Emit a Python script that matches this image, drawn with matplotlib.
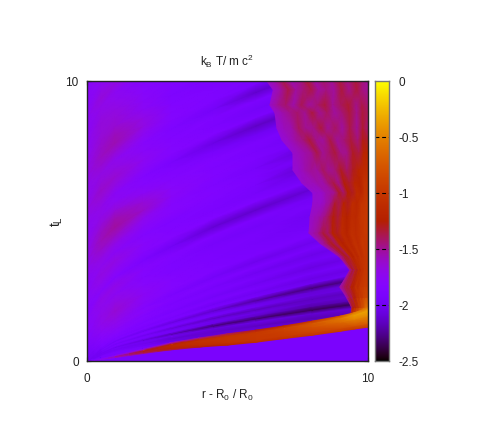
import numpy as np
import matplotlib
matplotlib.use("Agg")
import matplotlib.pyplot as plt
from matplotlib.colors import Normalize

plt.rcParams['font.family'] = ['Liberation Sans', 'DejaVu Sans']
plt.rcParams['mathtext.fontset'] = 'custom'
plt.rcParams['mathtext.rm'] = 'Liberation Sans'
plt.rcParams['mathtext.it'] = 'Liberation Sans'

# --- values (log10 kB T / m c^2) ---
unshocked_value = -1.92

# pre-shock field: streak rows following flow lines
field_r = [0, .5, 1, 2, 3, 4.5, 6, 8, 10]
field_shape = [0, .14, .24, .36, .46, .60, .72, .87, 1]
field_left = [0, 0, 0, 0, 0, 0, 0, 0, 0, 0, 0, 0, 0, 0, 0, 0,
              .05, .1, .15, .25, .4,
              .6, .9, 1.2, 1.5, 1.8, 2.1, 2.4, 2.7, 3.0, 3.3, 3.6, 3.9, 4.2, 4.5, 4.8, 5.1, 5.4, 5.7, 6.0,
              6.3, 6.6, 6.9, 7.2, 7.5, 7.8, 8.1, 8.4, 8.7, 9.0, 9.3, 9.6, 9.9, 10.2]
field_right = [.9, 1.3, 1.55, 1.75, 1.95, 2.1, 2.25, 2.4, 2.55, 2.7, 2.85, 3.0, 3.2, 3.4, 3.6, 3.85,
               4.1, 4.35, 4.6, 4.85, 5.1,
               5.6, 5.9, 6.2, 6.5, 6.8, 7.1, 7.4, 7.7, 8.0, 8.3, 8.6, 8.9, 9.2, 9.5, 9.8, 10.1, 10.4, 10.7, 11.0,
               11.3, 11.6, 11.9, 12.2, 12.5, 12.8, 13.1, 13.4, 13.7, 14.0, 14.3, 14.6, 14.9, 15.2]
field_values = [
 [-1.92, -1.92, -1.92, -1.92, -1.92, -1.92, -1.92, -1.92, -1.92],
 [-2.00, -1.92, -1.90, -1.92, -1.95, -2.00, -2.02, -2.05, -2.05],
 [-2.00, -1.96, -1.95, -1.98, -2.05, -2.10, -2.08, -2.08, -2.05],
 [-2.00, -1.98, -1.98, -2.02, -2.10, -2.12, -2.15, -2.18, -2.15],
 [-2.00, -1.96, -1.96, -2.00, -2.02, -2.08, -2.05, -2.10, -2.10],
 [-2.00, -1.98, -2.00, -2.08, -2.18, -2.30, -2.32, -2.36, -2.35],
 [-2.02, -1.95, -1.92, -1.95, -1.98, -2.05, -2.12, -2.20, -2.15],
 [-2.02, -1.95, -1.90, -1.92, -1.98, -2.02, -2.05, -2.12, -2.10],
 [-2.02, -1.96, -1.95, -2.00, -2.08, -2.14, -2.16, -2.15, -2.15],
 [-2.02, -1.94, -1.90, -1.90, -1.94, -1.96, -2.00, -2.08, -2.05],
 [-2.02, -1.92, -1.88, -1.90, -1.95, -2.00, -2.05, -2.10, -2.10],
 [-2.02, -1.95, -1.96, -2.00, -2.06, -2.12, -2.22, -2.30, -2.28],
 [-2.02, -1.92, -1.86, -1.88, -1.90, -1.92, -1.95, -2.00, -2.00],
 [-2.02, -1.92, -1.88, -1.90, -1.92, -1.98, -2.00, -2.05, -2.05],
 [-2.00, -1.88, -1.84, -1.86, -1.88, -1.90, -1.93, -1.97, -1.97],
 [-2.00, -1.88, -1.84, -1.88, -1.92, -1.96, -2.00, -2.06, -2.05],
 [-1.98, -1.86, -1.80, -1.84, -1.88, -1.90, -1.93, -1.97, -1.97],
 [-1.98, -1.84, -1.78, -1.84, -1.90, -1.94, -2.00, -2.04, -2.02],
 [-1.96, -1.82, -1.74, -1.80, -1.86, -1.88, -1.90, -1.94, -1.94],
 [-1.95, -1.80, -1.72, -1.82, -1.90, -1.96, -2.02, -2.02, -2.00],
 [-1.92, -1.76, -1.68, -1.78, -1.84, -1.88, -1.90, -1.92, -1.92],
 [-1.88, -1.72, -1.64, -1.76, -1.84, -1.90, -1.94, -1.98, -1.98],
 [-1.84, -1.70, -1.68, -1.80, -1.88, -1.90, -1.92, -2.00, -2.00],
 [-1.80, -1.72, -1.74, -1.84, -1.88, -1.94, -1.96, -1.94, -1.94],
 [-1.80, -1.70, -1.70, -1.82, -1.86, -1.88, -1.90, -1.98, -1.98],
 [-1.82, -1.78, -1.82, -1.90, -1.98, -2.10, -2.12, -2.10, -2.08],
 [-1.80, -1.72, -1.74, -1.82, -1.84, -1.86, -1.88, -1.94, -1.94],
 [-1.78, -1.68, -1.68, -1.80, -1.86, -1.90, -1.94, -2.02, -2.04],
 [-1.78, -1.72, -1.76, -1.84, -1.88, -1.88, -1.92, -2.12, -2.12],
 [-1.76, -1.68, -1.70, -1.78, -1.82, -1.86, -1.90, -1.98, -2.00],
 [-1.74, -1.62, -1.60, -1.72, -1.82, -1.88, -1.94, -2.10, -2.10],
 [-1.72, -1.58, -1.52, -1.62, -1.78, -1.86, -1.90, -1.96, -1.96],
 [-1.72, -1.60, -1.56, -1.66, -1.80, -1.88, -1.92, -2.00, -2.00],
 [-1.72, -1.66, -1.66, -1.76, -1.84, -1.86, -1.90, -1.94, -1.94],
 [-1.74, -1.70, -1.74, -1.82, -1.86, -1.94, -2.00, -2.00, -2.00],
 [-1.74, -1.70, -1.76, -1.84, -1.92, -2.05, -2.14, -2.14, -2.10],
 [-1.72, -1.66, -1.68, -1.78, -1.84, -1.86, -1.90, -1.92, -1.92],
 [-1.70, -1.62, -1.64, -1.74, -1.84, -1.90, -1.96, -2.00, -2.00],
 [-1.72, -1.66, -1.68, -1.78, -1.86, -1.88, -1.90, -1.92, -1.92],
 [-1.72, -1.68, -1.72, -1.80, -1.88, -1.96, -2.12, -2.10, -2.10],
 [-1.72, -1.64, -1.64, -1.74, -1.84, -1.88, -1.92, -1.92, -1.92],
 [-1.70, -1.60, -1.56, -1.68, -1.84, -1.88, -1.92, -1.92, -1.92],
 [-1.70, -1.62, -1.58, -1.70, -1.86, -1.90, -1.94, -1.94, -1.94],
 [-1.72, -1.64, -1.64, -1.76, -1.88, -1.92, -1.92, -1.92, -1.92],
 [-1.74, -1.66, -1.66, -1.78, -1.86, -1.88, -1.90, -1.90, -1.90],
 [-1.74, -1.66, -1.68, -1.80, -1.88, -1.90, -1.90, -1.90, -1.90],
 [-1.76, -1.68, -1.72, -1.82, -1.88, -1.90, -1.90, -1.90, -1.90],
 [-1.76, -1.70, -1.74, -1.84, -1.88, -1.90, -1.90, -1.90, -1.90],
 [-1.76, -1.66, -1.68, -1.80, -1.88, -1.90, -1.90, -1.90, -1.90],
 [-1.78, -1.70, -1.74, -1.84, -1.88, -1.90, -1.90, -1.90, -1.90],
 [-1.78, -1.74, -1.78, -1.86, -1.90, -1.90, -1.90, -1.90, -1.90],
 [-1.78, -1.72, -1.76, -1.84, -1.90, -1.90, -1.90, -1.90, -1.90],
 [-1.80, -1.76, -1.80, -1.86, -1.90, -1.90, -1.90, -1.90, -1.90],
 [-1.80, -1.78, -1.80, -1.86, -1.90, -1.90, -1.90, -1.90, -1.90],
]

# shock band
band_r = [0, .25, .5, 1, 2, 3, 4, 5, 6, 7, 8, 9, 9.5, 10]
band_low = [0, .02, .05, .12, .27, .40, .50, .57, .67, .80, .92, 1.06, 1.14, 1.21]
band_high = [0, .05, .10, .20, .42, .65, .82, .97, 1.10, 1.25, 1.42, 1.60, 1.72, 1.90]
band_fraction = [0, .2, .6, .85, 1]
band_values = [
 [-1.92, -1.90, -1.85, -1.75, -1.50, -1.38, -1.28, -1.18, -1.10, -1.06, -1.02, -.98, -.98, -.95],
 [-1.92, -1.88, -1.80, -1.62, -1.36, -1.22, -1.12, -1.05, -1.00, -.98, -.92, -.85, -.80, -.72],
 [-1.92, -1.85, -1.75, -1.55, -1.28, -1.14, -1.05, -1.00, -.98, -.92, -.80, -.65, -.50, -.45],
 [-1.92, -1.86, -1.78, -1.62, -1.38, -1.20, -1.10, -1.04, -1.00, -.90, -.76, -.55, -.38, -.35],
 [-1.96, -1.94, -1.90, -1.82, -1.70, -1.60, -1.50, -1.40, -1.28, -1.15, -1.02, -.80, -.55, -.58],
]

# post-front region, layers run from the front to the right edge
front_t = [10, 9.68, 9.14, 8.86, 8.32, 7.89, 7.43, 6.82, 6.36, 6.0, 5.64, 5.14, 4.57, 4.21, 3.71, 3.25, 2.64, 2.25, 1.89, 1.55]
front_r = [6.4, 6.63, 6.51, 6.69, 6.76, 6.94, 7.33, 7.33, 7.65, 8.04, 8.04, 7.94, 7.90, 8.29, 9.0, 9.36, 9.0, 9.25, 9.43, 9.36]
layer_fraction = [0, .08, .16, .24, .32, .40, .48, .56, .64, .72, .80, .88, .94, 1]
post_values = [
 [-1.62, -1.55, -1.38, -1.55, -1.50, -1.34, -1.52, -1.42, -1.50, -1.36, -1.46, -1.34, -1.44, -1.52],
 [-1.62, -1.52, -1.36, -1.52, -1.44, -1.36, -1.52, -1.46, -1.52, -1.34, -1.48, -1.34, -1.46, -1.50],
 [-1.62, -1.50, -1.42, -1.55, -1.38, -1.52, -1.44, -1.34, -1.50, -1.40, -1.32, -1.48, -1.36, -1.44],
 [-1.62, -1.55, -1.48, -1.42, -1.50, -1.34, -1.50, -1.40, -1.52, -1.44, -1.34, -1.48, -1.34, -1.40],
 [-1.64, -1.58, -1.55, -1.40, -1.50, -1.48, -1.34, -1.50, -1.40, -1.52, -1.36, -1.50, -1.32, -1.44],
 [-1.65, -1.60, -1.52, -1.46, -1.34, -1.48, -1.52, -1.36, -1.50, -1.44, -1.34, -1.45, -1.28, -1.32],
 [-1.62, -1.58, -1.54, -1.50, -1.36, -1.50, -1.42, -1.34, -1.48, -1.48, -1.30, -1.36, -1.20, -1.20],
 [-1.65, -1.62, -1.55, -1.50, -1.52, -1.40, -1.50, -1.45, -1.30, -1.42, -1.30, -1.18, -1.14, -1.12],
 [-1.62, -1.58, -1.58, -1.54, -1.55, -1.44, -1.36, -1.48, -1.26, -1.32, -1.18, -1.22, -1.06, -1.05],
 [-1.65, -1.62, -1.62, -1.55, -1.52, -1.48, -1.30, -1.42, -1.24, -1.30, -1.12, -1.18, -1.04, -1.05],
 [-1.62, -1.62, -1.62, -1.55, -1.48, -1.32, -1.38, -1.22, -1.30, -1.10, -1.18, -1.04, -1.02, -.98],
 [-1.62, -1.58, -1.54, -1.48, -1.38, -1.26, -1.34, -1.16, -1.24, -1.12, -1.14, -1.02, -1.00, -1.00],
 [-1.60, -1.55, -1.48, -1.34, -1.42, -1.22, -1.30, -1.12, -1.22, -1.08, -1.12, -1.05, -1.00, -1.00],
 [-1.58, -1.50, -1.38, -1.30, -1.40, -1.18, -1.25, -1.14, -1.18, -1.06, -1.12, -1.00, -1.02, -1.02],
 [-1.52, -1.45, -1.34, -1.28, -1.36, -1.14, -1.24, -1.10, -1.16, -1.05, -1.08, -1.02, -1.02, -1.02],
 [-1.52, -1.40, -1.30, -1.38, -1.16, -1.30, -1.10, -1.18, -1.05, -1.08, -1.00, -1.02, -1.00, -1.02],
 [-1.55, -1.50, -1.42, -1.34, -1.40, -1.20, -1.26, -1.05, -1.14, -1.00, -1.00, -.95, -.95, -1.00],
 [-1.55, -1.45, -1.34, -1.40, -1.20, -1.28, -1.06, -1.10, -.96, -1.00, -.90, -.88, -.86, -.88],
 [-1.38, -1.25, -1.14, -1.22, -1.04, -1.06, -.94, -.88, -.82, -.74, -.66, -.58, -.56, -.62],
 [-1.05, -.95, -.85, -.76, -.66, -.60, -.52, -.46, -.42, -.38, -.38, -.40, -.42, -.48],
]

tick_cbar = [0, -.5, -1, -1.5, -2, -2.5]
tick_cbar_labels = ['0', '-0.5', '-1', '-1.5', '-2', '-2.5']

W, H = 491, 442
fig = plt.figure(figsize=(W / 100, H / 100), dpi=100)
ax = fig.add_axes([87 / W, 1 - 361 / H, 281 / W, 280 / H])
norm = Normalize(-2.5, 0)
cmap = plt.get_cmap('gnuplot')
ax.set_facecolor(cmap(norm(unshocked_value)))

# pre-shock streak field
shape = np.array(field_shape)
left = np.array(field_left)[:, None]
right = np.array(field_right)[:, None]
fx = np.tile(np.array(field_r), (len(field_left), 1))
fy = left + (right - left) * shape
ax.pcolormesh(fx, fy, np.array(field_values), cmap=cmap, norm=norm, shading='gouraud')

# unshocked gas below the shock
ax.fill_between(band_r, -1, band_low, color=cmap(norm(unshocked_value)), lw=0)

# post-front region
ft = np.array(front_t)[:, None]
fr = np.array(front_r)[:, None]
lf = np.array(layer_fraction)[None, :]
px = fr + (10 - fr) * lf
py = np.tile(ft, (1, len(layer_fraction)))
ax.pcolormesh(px, py, np.array(post_values), cmap=cmap, norm=norm, shading='gouraud')

# shock band
low = np.array(band_low)
high = np.array(band_high)
bfrac = np.array(band_fraction)[:, None]
bx = np.tile(np.array(band_r), (len(band_fraction), 1))
by = low + (high - low) * bfrac
ax.pcolormesh(bx, by, np.array(band_values), cmap=cmap, norm=norm, shading='gouraud')

ax.set_xlim(0, 10)
ax.set_ylim(0, 10)
ax.set_xticks([0, 10])
ax.set_yticks([0, 10])
ax.tick_params(direction='in', length=3, width=.8, labelsize=8.5, pad=6, color='#111111', labelcolor='#222222')
ax.tick_params(axis='x', pad=9)
ax.tick_params(top=True, right=True)
for s in ax.spines.values():
    s.set_linewidth(1.0)
    s.set_color('#222222')
ax.set_title(r'k$_{\mathrm{B}}$ T/ m c$^{2}$', fontsize=8.5, pad=11, color='#222222')
ax.set_xlabel(r'r - R$_{0}$ / R$_{0}$', fontsize=8.5, labelpad=2, color='#222222')
ax.set_ylabel(r't$_{\mathrm{L}}$', fontsize=10, labelpad=0, color='#222222')

# colour box
cax = fig.add_axes([375 / W, 1 - 361 / H, 14 / W, 280 / H])
grad = np.linspace(-2.5, 0, 256)[:, None]
cax.imshow(grad, origin='lower', aspect='auto', cmap=cmap, norm=norm, extent=[0, 1, -2.5, 0])
cax.set_xticks([])
cax.yaxis.tick_right()
cax.set_yticks(tick_cbar)
cax.set_yticklabels(tick_cbar_labels, ha='left')
cax.tick_params(axis='y', length=0, labelsize=8.5, pad=7, labelcolor='#222222')
for v in tick_cbar[1:-1]:
    cax.plot([0, 1], [v, v], color='black', lw=.8, ls=(0, (3.5, 2.5)))
cax.set_xlim(0, 1)
cax.set_ylim(-2.5, 0)
for s in cax.spines.values():
    s.set_linewidth(1.0)
    s.set_color('#777777')

fig.savefig('out.png', dpi=100)
